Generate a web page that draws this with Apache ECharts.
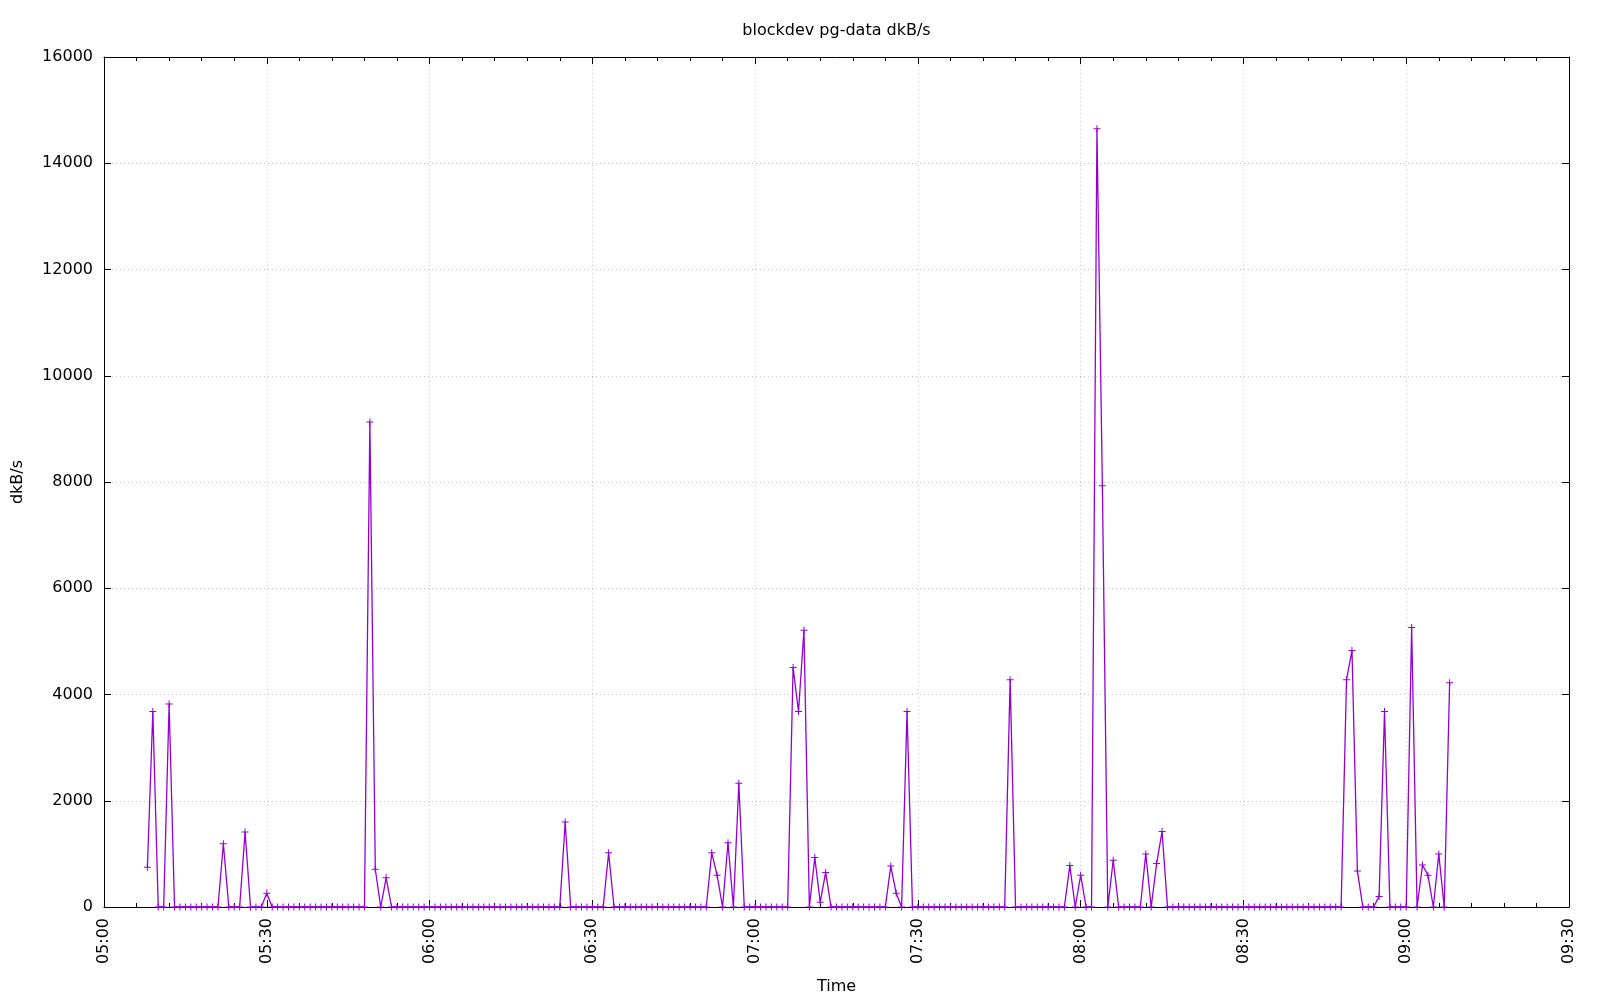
<!DOCTYPE html>
<html>
<head>
<meta charset="utf-8">
<script src="https://cdn.jsdelivr.net/npm/echarts@6/dist/echarts.min.js"></script>
<style>html,body{margin:0;padding:0;background:#fff}#c{width:1600px;height:1000px}</style>
</head>
<body>
<div id="c"></div>
<script>
// Chart texts
const chartTitle = 'blockdev pg-data dkB/s';
const xName = 'Time';
const yName = 'dkB/s';
// Time axis (minutes since midnight): 05:00 .. 09:30, ticks every 30 min
const xMinMinute = 300;
const xMaxMinute = 570;
const xTickStep = 30;
// Y axis
const yMin = 0, yMax = 16000, yTickStep = 2000;
// Samples: one per minute starting at 05:08
const sampleStart = '05:08';
const sampleStepMinutes = 1;
const dkBs = [
  750, 3680, 0, 0, 3820, 0, 0, 0, 0, 0,
  0, 0, 0, 0, 1190, 0, 0, 0, 1410, 0,
  0, 0, 260, 0, 0, 0, 0, 0, 0, 0,
  0, 0, 0, 0, 0, 0, 0, 0, 0, 0,
  0, 9130, 710, 0, 550, 0, 0, 0, 0, 0,
  0, 0, 0, 0, 0, 0, 0, 0, 0, 0,
  0, 0, 0, 0, 0, 0, 0, 0, 0, 0,
  0, 0, 0, 0, 0, 0, 0, 1600, 0, 0,
  0, 0, 0, 0, 0, 1020, 0, 0, 0, 0,
  0, 0, 0, 0, 0, 0, 0, 0, 0, 0,
  0, 0, 0, 0, 1020, 600, 0, 1210, 0, 2330,
  0, 0, 0, 0, 0, 0, 0, 0, 0, 4510,
  3680, 5210, 0, 930, 90, 650, 0, 0, 0, 0,
  0, 0, 0, 0, 0, 0, 0, 770, 260, 0,
  3680, 0, 0, 0, 0, 0, 0, 0, 0, 0,
  0, 0, 0, 0, 0, 0, 0, 0, 0, 4280,
  0, 0, 0, 0, 0, 0, 0, 0, 0, 0,
  780, 0, 600, 0, 0, 14650, 7930, 0, 880, 0,
  0, 0, 0, 0, 1000, 0, 820, 1420, 0, 0,
  0, 0, 0, 0, 0, 0, 0, 0, 0, 0,
  0, 0, 0, 0, 0, 0, 0, 0, 0, 0,
  0, 0, 0, 0, 0, 0, 0, 0, 0, 0,
  0, 4280, 4830, 680, 0, 0, 0, 200, 3680, 0,
  0, 0, 0, 5260, 0, 790, 600, 0, 1000, 0,
  4220
];

function toMin(s){ const p = s.split(':'); return (+p[0])*60 + (+p[1]); }
function fmt(m){ const h = Math.floor(m/60), mm = Math.round(m%60); return String(h).padStart(2,'0') + ':' + String(mm).padStart(2,'0'); }
const startMin = toMin(sampleStart);
const seriesData = dkBs.map((v, i) => [startMin + i*sampleStepMinutes, v]);

const FONT = '"DejaVu Sans", sans-serif';
const FS = 16;
const G = {left: 104, right: 31, top: 57, bottom: 93};
const plotCx = G.left + (1600 - G.left - G.right)/2;
const plotCy = G.top + (1000 - G.top - G.bottom)/2;
const lineColor = '#9400d3';
const plusPath = 'path://M3,0h1v3h3v1h-3v3h-1v-3h-3v-1h3z';

const chart = echarts.init(document.getElementById('c'), null, {renderer: 'canvas'});
const baseX = {
  type: 'value', min: xMinMinute, max: xMaxMinute, interval: xTickStep,
  axisLine: {show: true, onZero: false, lineStyle: {color: '#000', width: 1}},
  axisTick: {show: true, inside: true, length: 7, lineStyle: {color: '#000'}},
  minorTick: {show: true, splitNumber: 5, length: 4, lineStyle: {color: '#000'}}
};
const baseY = {
  type: 'value', min: yMin, max: yMax, interval: yTickStep,
  axisLine: {show: true, onZero: false, lineStyle: {color: '#000', width: 1}},
  axisTick: {show: true, inside: true, length: 7, lineStyle: {color: '#000'}}
};
chart.setOption({
  animation: false,
  backgroundColor: '#fff',
  grid: {left: G.left, right: G.right, top: G.top, bottom: G.bottom, containLabel: false},
  xAxis: [
    Object.assign({}, baseX, {
      position: 'bottom',
      axisLabel: {show: true, rotate: 90, margin: 11, color: '#000', fontSize: FS, fontFamily: FONT, formatter: v => fmt(v)},
      splitLine: {show: true, lineStyle: {color: '#c4c4c4', type: [1, 3], width: 1}}
    }),
    Object.assign({}, baseX, {
      position: 'top',
      axisLabel: {show: false},
      splitLine: {show: false}
    })
  ],
  yAxis: [
    Object.assign({}, baseY, {
      position: 'left',
      axisLabel: {show: true, margin: 11, color: '#000', fontSize: FS, fontFamily: FONT, formatter: v => String(v)},
      splitLine: {show: true, lineStyle: {color: '#c4c4c4', type: [1, 3], width: 1}}
    }),
    Object.assign({}, baseY, {
      position: 'right',
      axisLabel: {show: false},
      splitLine: {show: false}
    })
  ],
  graphic: [
    {type: 'text', x: plotCx, y: 31, style: {text: chartTitle, fill: '#000', font: FS + 'px ' + FONT, textAlign: 'center', textVerticalAlign: 'middle'}},
    {type: 'text', x: plotCx, y: 987, style: {text: xName, fill: '#000', font: FS + 'px ' + FONT, textAlign: 'center', textVerticalAlign: 'middle'}},
    {type: 'text', x: 18, y: plotCy, rotation: Math.PI/2, style: {text: yName, fill: '#000', font: FS + 'px ' + FONT, textAlign: 'center', textVerticalAlign: 'middle'}}
  ],
  series: [{
    type: 'line',
    xAxisIndex: 0, yAxisIndex: 0,
    data: seriesData,
    showSymbol: true,
    symbol: plusPath,
    symbolSize: 7,
    symbolKeepAspect: true,
    lineStyle: {color: lineColor, width: 1.3},
    itemStyle: {color: lineColor, borderWidth: 0},
    emphasis: {disabled: true}
  }]
});
</script>
</body>
</html>
